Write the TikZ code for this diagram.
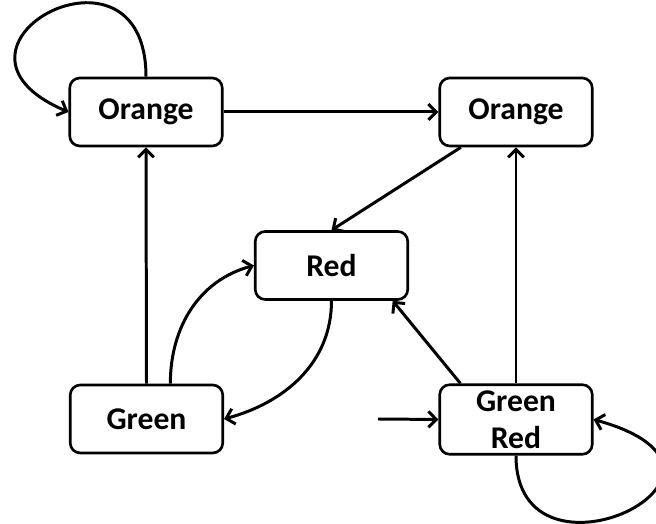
\documentclass[tikz,border=0pt]{standalone}
\usepackage{fontspec}
\setmainfont{Carlito}
\usetikzlibrary{arrows.meta}

\begin{document}
\begin{tikzpicture}[>={Straight Barb[length=4.5pt,width=9pt]}, line width=1.7pt,
    state/.style={draw, line width=1.5pt, rounded corners=0.2cm, minimum width=3.05cm, minimum height=1.36cm,
        align=center, font=\fontsize{18}{21}\selectfont\bfseries}]

    % canvas 656 x 524 px, 1 px = 0.02 cm
    \clip (0,0) rectangle (13.12,10.48);

    % states
    \node[state] (O1) at (2.92, 8.24) {Orange};
    \node[state] (O2) at (10.32, 8.24) {Orange};
    \node[state] (R)  at (6.63, 5.17) {Red};
    \node[state] (G)  at (2.93, 2.10) {Green};
    \node[state] (GR) at (10.32, 2.09) {Green\\Red};

    % start arrow
    \coordinate (S) at (7.56, 2.10);

    % transitions
    \draw[->] (O1) -- (O2);
    \draw[->] (O1.north) .. controls +(0,3.08) and +(-3.05,1.3) .. (O1.west);
    \draw[->] (G.north) -- (O1.south);
    \draw[->] (G.56) to[out=90, in=195] (R.west);
    \draw[->] (R.south) to[out=-90, in=15] (G.east);
    \draw[->] (O2) -- (R.north);
    \draw[->] (GR.north) -- (O2.south);
    \draw[->] (GR.147) -- (R.330);
    \draw[->] (S) -- (GR.west);
    \draw[->] (GR.south) .. controls +(0,-2.9) and +(3.8,-1.05) .. (GR.east);

\end{tikzpicture}
\end{document}
